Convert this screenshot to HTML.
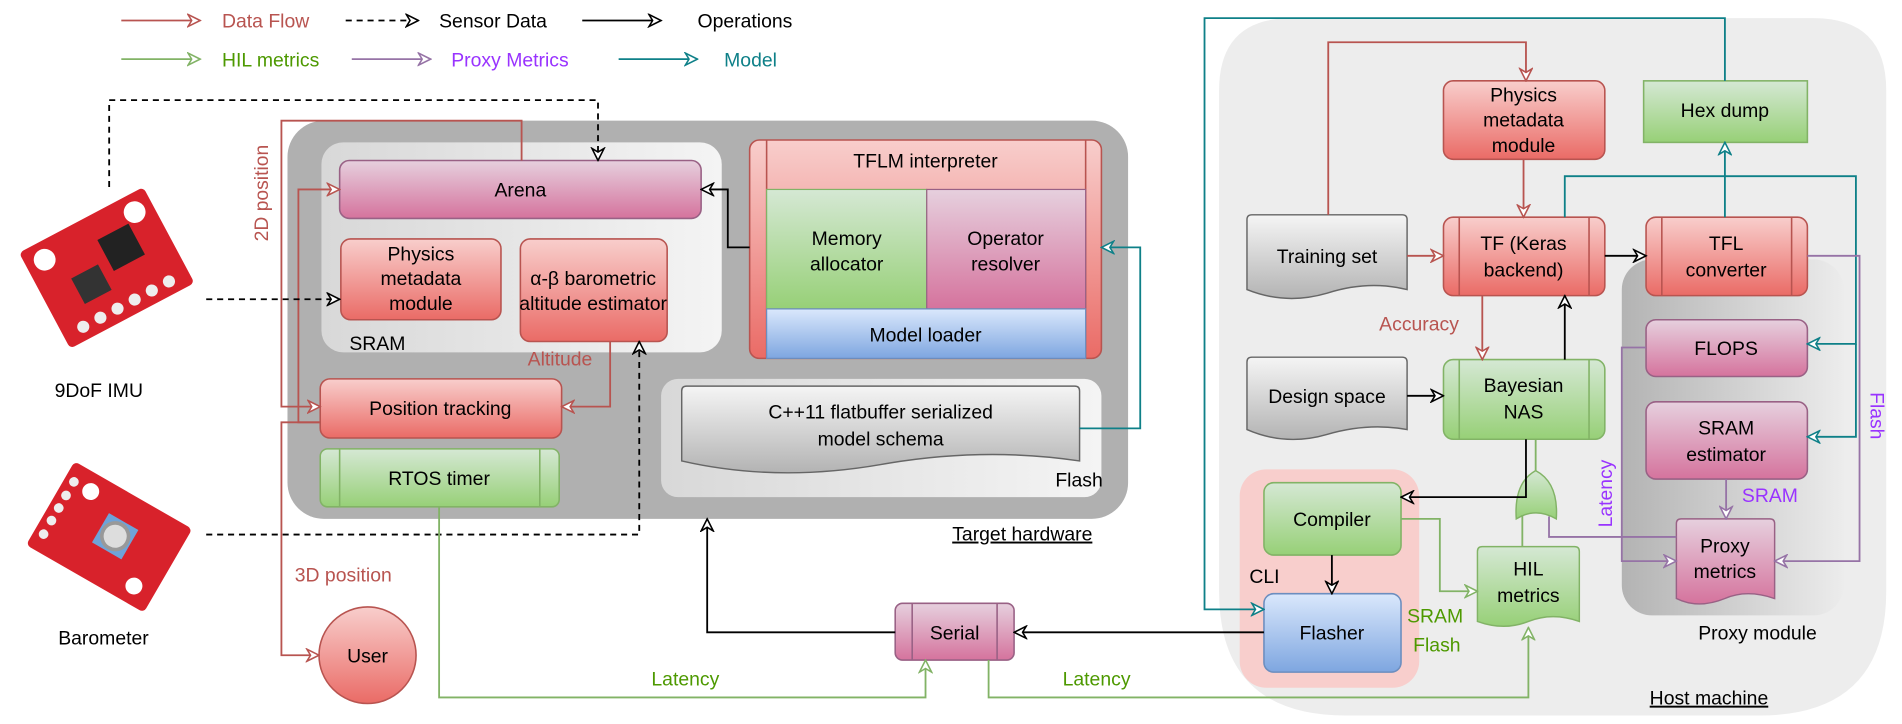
<!DOCTYPE html>
<html><head><meta charset="utf-8"><style>
html,body{margin:0;padding:0;background:#fff;width:1902px;height:724px;overflow:hidden}
svg{display:block}
text{font-family:"Liberation Sans",sans-serif;font-size:16px;fill:#000}
</style></head><body>
<svg width="1902" height="724" viewBox="0 0 1568 600" preserveAspectRatio="none" xmlns="http://www.w3.org/2000/svg">
<defs>
<linearGradient id="gR" x1="0" y1="0" x2="0" y2="1"><stop offset="0" stop-color="#f8cecc"/><stop offset="1" stop-color="#ea6b66"/></linearGradient>
<linearGradient id="gP" x1="0" y1="0" x2="0" y2="1"><stop offset="0" stop-color="#e6d0de"/><stop offset="1" stop-color="#d5739d"/></linearGradient>
<linearGradient id="gG" x1="0" y1="0" x2="0" y2="1"><stop offset="0" stop-color="#d5e8d4"/><stop offset="1" stop-color="#97d077"/></linearGradient>
<linearGradient id="gB" x1="0" y1="0" x2="0" y2="1"><stop offset="0" stop-color="#dae8fc"/><stop offset="1" stop-color="#7ea6e0"/></linearGradient>
<linearGradient id="gK" x1="0" y1="0" x2="0" y2="1"><stop offset="0" stop-color="#f5f5f5"/><stop offset="1" stop-color="#b3b3b3"/></linearGradient>
<linearGradient id="gL" x1="0" y1="0" x2="1" y2="0"><stop offset="0" stop-color="#d8d8d8"/><stop offset="1" stop-color="#f4f4f4"/></linearGradient>
<linearGradient id="gM" x1="0" y1="0" x2="1" y2="0"><stop offset="0" stop-color="#b3b3b3"/><stop offset="1" stop-color="#ececec"/></linearGradient>
<marker id="aR" viewBox="0 0 12 12" refX="11" refY="6" markerWidth="12" markerHeight="12" markerUnits="userSpaceOnUse" orient="auto"><path d="M1,1 L11,6 L1,11 L4,6 Z" fill="#fff" stroke="#b85450" stroke-width="1.3"/></marker>
<marker id="aK" viewBox="0 0 12 12" refX="11" refY="6" markerWidth="12" markerHeight="12" markerUnits="userSpaceOnUse" orient="auto"><path d="M1,1 L11,6 L1,11 L4,6 Z" fill="#fff" stroke="#000" stroke-width="1.3"/></marker>
<marker id="aG" viewBox="0 0 12 12" refX="11" refY="6" markerWidth="12" markerHeight="12" markerUnits="userSpaceOnUse" orient="auto"><path d="M1,1 L11,6 L1,11 L4,6 Z" fill="#fff" stroke="#82b366" stroke-width="1.3"/></marker>
<marker id="aV" viewBox="0 0 12 12" refX="11" refY="6" markerWidth="12" markerHeight="12" markerUnits="userSpaceOnUse" orient="auto"><path d="M1,1 L11,6 L1,11 L4,6 Z" fill="#fff" stroke="#9673a6" stroke-width="1.3"/></marker>
<marker id="aT" viewBox="0 0 12 12" refX="11" refY="6" markerWidth="12" markerHeight="12" markerUnits="userSpaceOnUse" orient="auto"><path d="M1,1 L11,6 L1,11 L4,6 Z" fill="#fff" stroke="#0e8088" stroke-width="1.3"/></marker>
</defs>

<!-- Legend -->
<g fill="none" stroke-width="1.5">
<path d="M100,17H165" stroke="#b85450" marker-end="url(#aR)"/>
<path d="M285,17H345" stroke="#000" stroke-dasharray="5,4" marker-end="url(#aK)"/>
<path d="M480,17H545" stroke="#000" marker-end="url(#aK)"/>
<path d="M100,49H165" stroke="#82b366" marker-end="url(#aG)"/>
<path d="M290,49H355" stroke="#9673a6" marker-end="url(#aV)"/>
<path d="M510,49H575" stroke="#0e8088" marker-end="url(#aT)"/>
</g>
<text x="183" y="23" style="fill:#b85450">Data Flow</text>
<text x="362" y="23">Sensor Data</text>
<text x="575" y="23">Operations</text>
<text x="183" y="55" style="fill:#4d9900">HIL metrics</text>
<text x="372" y="55" style="fill:#9933ff">Proxy Metrics</text>
<text x="597" y="55" style="fill:#0e8088">Model</text>

<!-- Sensors -->
<g transform="translate(88,222) rotate(-28)">
<rect x="-58" y="-45" width="116" height="90" rx="4" fill="#d8222b"/>
<circle cx="-42" cy="-30" r="9" fill="#fff"/><circle cx="42" cy="-30" r="9" fill="#fff"/>
<rect x="-30" y="-6" width="25" height="24" fill="#333"/><rect x="4" y="-24" width="29" height="29" fill="#222"/>
<g fill="#eee"><circle cx="-40" cy="34" r="5"/><circle cx="-24" cy="34" r="5"/><circle cx="-8" cy="34" r="5"/><circle cx="8" cy="34" r="5"/><circle cx="24" cy="34" r="5"/><circle cx="40" cy="34" r="5"/></g>
</g>
<text x="45" y="329">9DoF IMU</text>
<g transform="translate(90,445) rotate(30)">
<rect x="-56" y="-40" width="112" height="80" rx="4" fill="#d8222b"/>
<circle cx="-32" cy="-25" r="7" fill="#fff"/><circle cx="38" cy="25" r="7" fill="#fff"/>
<rect x="-10" y="-17" width="28" height="28" fill="#6fa3d8"/><circle cx="4" cy="-3" r="11" fill="#ddd" stroke="#999" stroke-width="3"/>
<g fill="#eee"><circle cx="-48" cy="-25" r="4"/><circle cx="-48" cy="-12" r="4"/><circle cx="-48" cy="0" r="4"/><circle cx="-48" cy="12" r="4"/><circle cx="-48" cy="25" r="4"/></g>
</g>
<text x="48" y="534">Barometer</text>

<!-- Target hardware -->
<rect x="237" y="100" width="693" height="330" rx="30" fill="#b0b0b0"/>
<text x="785" y="448" text-decoration="underline">Target hardware</text>
<rect x="265" y="118" width="330" height="174" rx="18" fill="url(#gL)"/>
<text x="288" y="290">SRAM</text>
<rect x="545" y="314" width="363" height="98" rx="14" fill="url(#gL)"/>
<text x="870" y="403">Flash</text>
<rect x="280" y="133" width="298" height="48" rx="8" fill="url(#gP)" stroke="#996185" stroke-width="1.3"/>
<text x="429" y="163" text-anchor="middle">Arena</text>
<rect x="281" y="198" width="132" height="67" rx="8" fill="url(#gR)" stroke="#b85450" stroke-width="1.3"/>
<text x="347" y="216" text-anchor="middle">Physics</text><text x="347" y="236" text-anchor="middle">metadata</text><text x="347" y="257" text-anchor="middle">module</text>
<rect x="429" y="198" width="121" height="85" rx="8" fill="url(#gR)" stroke="#b85450" stroke-width="1.3"/>
<text x="489" y="236" text-anchor="middle">α-β barometric</text><text x="489" y="257" text-anchor="middle">altitude estimator</text>
<!-- TFLM -->
<rect x="618" y="116" width="290" height="181" rx="8" fill="url(#gR)" stroke="#b85450" stroke-width="1.3"/>
<path d="M632,116V297M895,116V297" stroke="#b85450" stroke-width="1.3"/>
<text x="763" y="139" text-anchor="middle">TFLM interpreter</text>
<rect x="632" y="157" width="132" height="99" fill="url(#gG)" stroke="#82b366"/>
<rect x="764" y="157" width="131" height="99" fill="url(#gP)" stroke="#996185"/>
<rect x="632" y="256" width="263" height="41" fill="url(#gB)" stroke="#6c8ebf"/>
<text x="698" y="203" text-anchor="middle">Memory</text><text x="698" y="224" text-anchor="middle">allocator</text>
<text x="829" y="203" text-anchor="middle">Operator</text><text x="829" y="224" text-anchor="middle">resolver</text>
<text x="763" y="283" text-anchor="middle">Model loader</text>
<!-- flatbuffer doc -->
<path d="M562,324 Q562,320 566,320 H886 Q890,320 890,324 V382 Q810,370 726,385 Q640,400 562,382 Z" fill="url(#gK)" stroke="#666" stroke-width="1.2"/>
<text x="726" y="347" text-anchor="middle">C++11 flatbuffer serialized</text><text x="726" y="369" text-anchor="middle">model schema</text>
<!-- position tracking -->
<rect x="264" y="314" width="199" height="49" rx="8" fill="url(#gR)" stroke="#b85450" stroke-width="1.3"/>
<text x="363" y="344" text-anchor="middle">Position tracking</text>
<rect x="264" y="372" width="197" height="48" rx="6" fill="url(#gG)" stroke="#82b366" stroke-width="1.3"/>
<path d="M280,372V420M445,372V420" stroke="#82b366" stroke-width="1.3"/>
<text x="362" y="402" text-anchor="middle">RTOS timer</text>
<circle cx="303" cy="543" r="40" fill="url(#gR)" stroke="#b85450" stroke-width="1.3"/>
<text x="303" y="549" text-anchor="middle">User</text>
<!-- Serial -->
<rect x="738" y="500" width="98" height="47" rx="6" fill="url(#gP)" stroke="#996185" stroke-width="1.3"/>
<path d="M752,500V547M822,500V547" stroke="#996185" stroke-width="1.3"/>
<text x="787" y="530" text-anchor="middle">Serial</text>

<!-- Host machine -->
<path d="M1005,75 Q1005,15 1065,15 H1495 Q1555,15 1555,75 V490 Q1555,593 1450,593 H1110 Q1005,593 1005,490 Z" fill="#ededed"/>
<text x="1360" y="584" text-decoration="underline">Host machine</text>
<rect x="1337" y="215" width="183" height="295" rx="25" fill="url(#gM)"/>
<text x="1400" y="530">Proxy module</text>
<rect x="1022" y="389" width="148" height="181" rx="22" fill="#f8cecc"/>
<text x="1030" y="483">CLI</text>

<rect x="1190" y="67" width="133" height="65" rx="8" fill="url(#gR)" stroke="#b85450" stroke-width="1.3"/>
<text x="1256" y="84" text-anchor="middle">Physics</text><text x="1256" y="105" text-anchor="middle">metadata</text><text x="1256" y="126" text-anchor="middle">module</text>
<rect x="1355" y="67" width="135" height="51" fill="url(#gG)" stroke="#82b366" stroke-width="1.3"/>
<text x="1422" y="97" text-anchor="middle">Hex dump</text>
<path d="M1028,182 Q1028,178 1032,178 H1156 Q1160,178 1160,182 V240 Q1128,232 1094,243 Q1060,253 1028,240 Z" fill="url(#gK)" stroke="#666" stroke-width="1.2"/>
<text x="1094" y="218" text-anchor="middle">Training set</text>
<rect x="1190" y="180" width="133" height="65" rx="8" fill="url(#gR)" stroke="#b85450" stroke-width="1.3"/>
<path d="M1203,180V245M1310,180V245" stroke="#b85450" stroke-width="1.3"/>
<text x="1256" y="207" text-anchor="middle">TF (Keras</text><text x="1256" y="229" text-anchor="middle">backend)</text>
<rect x="1357" y="180" width="133" height="65" rx="8" fill="url(#gR)" stroke="#b85450" stroke-width="1.3"/>
<path d="M1370,180V245M1477,180V245" stroke="#b85450" stroke-width="1.3"/>
<text x="1423" y="207" text-anchor="middle">TFL</text><text x="1423" y="229" text-anchor="middle">converter</text>
<rect x="1357" y="265" width="133" height="47" rx="8" fill="url(#gP)" stroke="#996185" stroke-width="1.3"/>
<text x="1423" y="294" text-anchor="middle">FLOPS</text>
<rect x="1357" y="333" width="133" height="64" rx="8" fill="url(#gP)" stroke="#996185" stroke-width="1.3"/>
<text x="1423" y="360" text-anchor="middle">SRAM</text><text x="1423" y="382" text-anchor="middle">estimator</text>
<path d="M1382,434 Q1382,430 1386,430 H1459 Q1463,430 1463,434 V496 Q1440,488 1422,496 Q1400,505 1382,496 Z" fill="url(#gP)" stroke="#996185" stroke-width="1.2"/>
<text x="1422" y="458" text-anchor="middle">Proxy</text><text x="1422" y="479" text-anchor="middle">metrics</text>
<path d="M1028,300 Q1028,296 1032,296 H1156 Q1160,296 1160,300 V356 Q1128,350 1094,360 Q1060,370 1028,356 Z" fill="url(#gK)" stroke="#666" stroke-width="1.2"/>
<text x="1094" y="334" text-anchor="middle">Design space</text>
<rect x="1190" y="298" width="133" height="66" rx="8" fill="url(#gG)" stroke="#82b366" stroke-width="1.3"/>
<path d="M1203,298V364M1310,298V364" stroke="#82b366" stroke-width="1.3"/>
<text x="1256" y="325" text-anchor="middle">Bayesian</text><text x="1256" y="347" text-anchor="middle">NAS</text>
<rect x="1042" y="400" width="113" height="60" rx="8" fill="url(#gG)" stroke="#82b366" stroke-width="1.3"/>
<text x="1098" y="436" text-anchor="middle">Compiler</text>
<rect x="1042" y="492" width="113" height="65" rx="8" fill="url(#gB)" stroke="#6c8ebf" stroke-width="1.3"/>
<text x="1098" y="530" text-anchor="middle">Flasher</text>
<path d="M1218,457 Q1218,453 1222,453 H1298 Q1302,453 1302,457 V515 Q1280,507 1260,515 Q1240,523 1218,515 Z" fill="url(#gG)" stroke="#82b366" stroke-width="1.2"/>
<text x="1260" y="477" text-anchor="middle">HIL</text><text x="1260" y="499" text-anchor="middle">metrics</text>
<!-- OR gate -->
<path d="M1250,430 Q1266,420 1283,430 Q1285,400 1266,390 Q1248,400 1250,430 Z" fill="url(#gG)" stroke="#82b366" stroke-width="1.2"/>

<!-- Connectors -->
<g fill="none" stroke-width="1.5">
<path d="M1422,67V15H993V505H1042" stroke="#0e8088" marker-end="url(#aT)"/>
<path d="M1422,180V118" stroke="#0e8088" marker-end="url(#aT)"/>
<path d="M1290,180V146H1530V285H1490" stroke="#0e8088" marker-end="url(#aT)"/>
<path d="M1530,285V362H1490" stroke="#0e8088" marker-end="url(#aT)"/>
<path d="M890,355H940V205H908" stroke="#0e8088" marker-end="url(#aT)"/>

<path d="M1095,178V35H1258V67" stroke="#b85450" marker-end="url(#aR)"/>
<path d="M1256,132V180" stroke="#b85450" marker-end="url(#aR)"/>
<path d="M1160,212H1190" stroke="#b85450" marker-end="url(#aR)"/>
<path d="M1222,245V298" stroke="#b85450" marker-end="url(#aR)"/>
<path d="M430,133V100H232V337H264" stroke="#b85450" marker-end="url(#aR)"/>
<path d="M264,350H246V157H280" stroke="#b85450" marker-end="url(#aR)"/>
<path d="M503,283V337H463" stroke="#b85450" marker-end="url(#aR)"/>
<path d="M264,350H232V543H263" stroke="#b85450" marker-end="url(#aR)"/>

<path d="M1323,212H1357" stroke="#000" marker-end="url(#aK)"/>
<path d="M1290,298V245" stroke="#000" marker-end="url(#aK)"/>
<path d="M1160,328H1190" stroke="#000" marker-end="url(#aK)"/>
<path d="M1258,364V412H1155" stroke="#000" marker-end="url(#aK)"/>
<path d="M1098,460V492" stroke="#000" marker-end="url(#aK)"/>
<path d="M1042,524H836" stroke="#000" marker-end="url(#aK)"/>
<path d="M738,524H583V430" stroke="#000" marker-end="url(#aK)"/>
<path d="M618,205H600V157H578" stroke="#000" marker-end="url(#aK)"/>
<path d="M90,155V83H493V133" stroke="#000" stroke-dasharray="5,4" marker-end="url(#aK)"/>
<path d="M170,248H280" stroke="#000" stroke-dasharray="5,4" marker-end="url(#aK)"/>
<path d="M170,443H527V283" stroke="#000" stroke-dasharray="5,4" marker-end="url(#aK)"/>

<path d="M1155,430H1187V490H1218" stroke="#82b366" marker-end="url(#aG)"/>
<path d="M815,547V578H1260V520" stroke="#82b366" marker-end="url(#aG)"/>
<path d="M362,420V578H763V547" stroke="#82b366" marker-end="url(#aG)"/>
<path d="M1255,453V427M1266,390V364" stroke="#82b366"/>

<path d="M1490,212H1533V465H1463" stroke="#9673a6" marker-end="url(#aV)"/>
<path d="M1357,288H1337V465H1382" stroke="#9673a6" marker-end="url(#aV)"/>
<path d="M1423,397V430" stroke="#9673a6" marker-end="url(#aV)"/>
<path d="M1382,445H1277V428" stroke="#9673a6"/>
</g>

<!-- connector labels -->
<text x="0" y="0" transform="translate(221,200) rotate(-90)" style="fill:#b85450">2D position</text>
<text x="435" y="303" style="fill:#b85450">Altitude</text>
<text x="243" y="482" style="fill:#b85450">3D position</text>
<text x="1137" y="274" style="fill:#b85450">Accuracy</text>
<text x="537" y="568" style="fill:#4d9900">Latency</text>
<text x="876" y="568" style="fill:#4d9900">Latency</text>
<text x="1160" y="516" style="fill:#4d9900">SRAM</text>
<text x="1165" y="540" style="fill:#4d9900">Flash</text>
<text x="1436" y="416" style="fill:#9933ff">SRAM</text>
<text x="0" y="0" transform="translate(1329,437) rotate(-90)" style="fill:#9933ff">Latency</text>
<text x="0" y="0" transform="translate(1542,325) rotate(90)" style="fill:#9933ff">Flash</text>
</svg>
</body></html>
